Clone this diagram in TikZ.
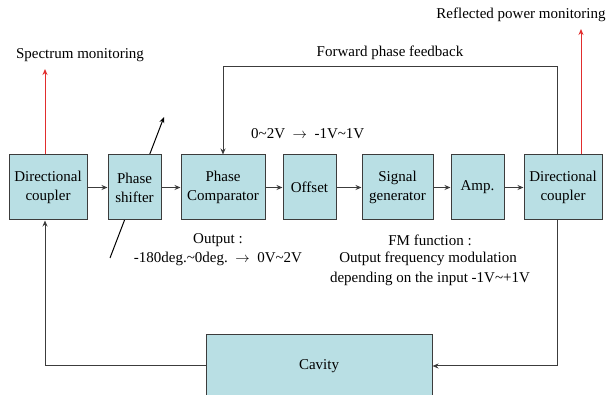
\documentclass[tikz,border=0pt]{standalone}
\usepackage{fontspec}
\setmainfont{Liberation Serif}
\usetikzlibrary{arrows.meta}
\definecolor{boxfill}{RGB}{185,223,228}
\definecolor{lineg}{RGB}{60,60,60}
\definecolor{mred}{RGB}{225,45,45}
\begin{document}
\begin{tikzpicture}[x=1pt,y=-1pt,
  blk/.style={draw=lineg,fill=boxfill,line width=1pt,minimum height=65pt,inner sep=1pt,align=center,font=\fontsize{15}{19}\selectfont},
  lbl/.style={font=\fontsize{15}{19}\selectfont,inner sep=0pt,align=center},
  conn/.style={draw=lineg,line width=1pt,-{Stealth[length=6pt,width=5pt]}},
  redc/.style={draw=mred,line width=1pt,-{Stealth[length=6pt,width=5pt]}}]
\useasboundingbox (0,0) rectangle (616,395);
% phase shifter adjust arrow (behind the box)
\coordinate (psA) at (110,258);
\coordinate (psB) at (164,117);
\draw[line width=1pt,-{Stealth[length=6pt,width=5pt]}] (psA) -- (psB);
% blocks
\node[blk,minimum width=78pt] (dcL) at (48,187.5) {Directional\\coupler};
\node[blk,minimum width=53pt] (ps) at (134.5,187.5) {Phase\\shifter};
\node[blk,minimum width=84pt] (pc) at (223,187.5) {Phase\\Comparator};
\node[blk,minimum width=53pt] (off) at (309.5,187.5) {Offset};
\node[blk,minimum width=71pt] (sg) at (397.5,187.5) {Signal\\generator};
\node[blk,minimum width=53pt] (amp) at (477.5,187.5) {Amp.};
\node[blk,minimum width=78pt] (dcR) at (563,187.5) {Directional\\coupler};
\node[blk,minimum width=226pt,minimum height=64pt,anchor=north] (cav) at (319,334) {};
\node[lbl] (cavt) at (319,366) {Cavity};
% chain
\draw[conn] (dcL) -- (ps);
\draw[conn] (ps) -- (pc);
\draw[conn] (pc) -- (off);
\draw[conn] (off) -- (sg);
\draw[conn] (sg) -- (amp);
\draw[conn] (amp) -- (dcR);
% loop through cavity
\draw[conn] ([xshift=-6pt]dcR.south) |- (cav.east |- cavt);
\draw[conn] (cav.west |- cavt) -| ([xshift=-3pt]dcL.south);
% forward phase feedback
\coordinate (fbR) at (557,67);
\coordinate (fbL) at (223,67);
\draw[conn] ([xshift=-6pt]dcR.north) -- (fbR) -- (fbL) -- (pc.north);
\node[lbl] (fbt) at (390,53) {Forward phase feedback};
% monitoring
\coordinate (spTip) at (45,69);
\coordinate (rfTip) at (581,29);
\draw[redc] ([xshift=-3pt]dcL.north) -- (spTip);
\draw[redc] ([xshift=18pt]dcR.north) -- (rfTip);
\node[lbl] (spt) at (80,55) {Spectrum monitoring};
\node[lbl] (rft) at (521,15) {Reflected power monitoring};
% annotations
\node[lbl,anchor=west] (offt) at (251,134) {0\textasciitilde 2V\enspace$\rightarrow$\enspace-1V\textasciitilde 1V};
\node[lbl] (o1) at (218,240) {Output :};
\node[lbl] (o2) at (218,259) {-180deg.\textasciitilde 0deg.\enspace$\rightarrow$\enspace0V\textasciitilde 2V};
\node[lbl] (f1) at (430,240) {FM function :};
\node[lbl] (f2) at (428,259) {Output frequency modulation};
\node[lbl] (f3) at (430,279) {depending on the input -1V\textasciitilde +1V};
\end{tikzpicture}
\end{document}
